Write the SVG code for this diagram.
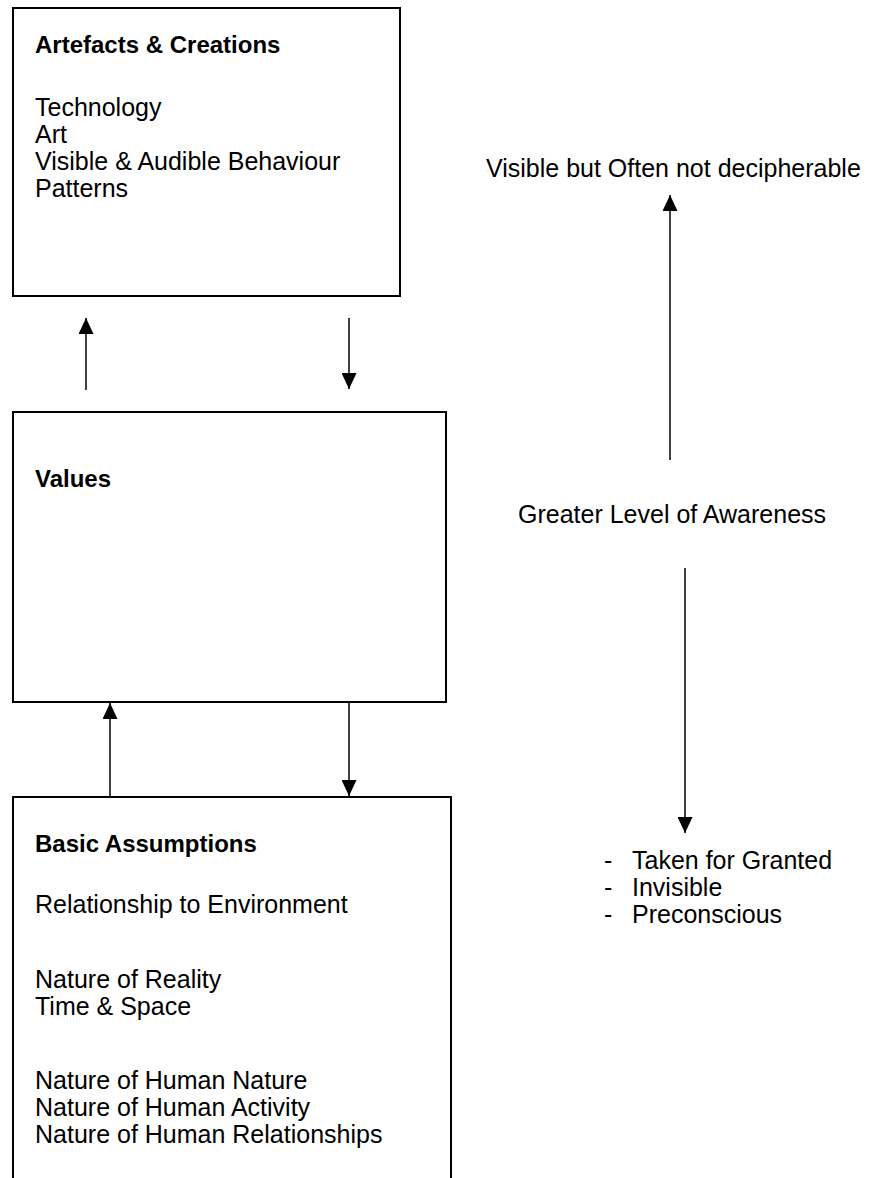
<svg xmlns="http://www.w3.org/2000/svg" width="869" height="1178" viewBox="0 0 869 1178">
  <style>
    .box { fill: #ffffff; stroke: #000000; stroke-width: 2; }
    .lnk { stroke: #000000; stroke-width: 1.5; fill: none; marker-end: url(#head); }
    text { font-family: "Liberation Sans", Arial, sans-serif; font-size: 25px; fill: #000000; }
    .title { font-weight: bold; font-size: 24px; }
  </style>
  <defs>
    <marker id="head" viewBox="0 0 16 16" refX="16" refY="8" markerWidth="16" markerHeight="15" markerUnits="userSpaceOnUse" orient="auto" preserveAspectRatio="none">
      <path d="M0,0 L16,8 L0,16 Z" fill="#000000"/>
    </marker>
  </defs>
  <rect width="869" height="1178" fill="#ffffff"/>

  <g id="artefacts">
    <rect class="box" x="13" y="8" width="387" height="288"/>
    <text class="title" x="35" y="53">Artefacts &amp; Creations</text>
    <text x="35" y="116">Technology</text>
    <text x="35" y="143">Art</text>
    <text x="35" y="170">Visible &amp; Audible Behaviour</text>
    <text x="35" y="197">Patterns</text>
  </g>

  <g id="values">
    <rect class="box" x="13" y="412" width="433" height="290"/>
    <text class="title" x="35" y="487">Values</text>
  </g>

  <g id="assumptions">
    <path class="box" d="M13,1180 V797 H451 V1180"/>
    <text class="title" x="35" y="852">Basic Assumptions</text>
    <text x="35" y="913">Relationship to Environment</text>
    <text x="35" y="988">Nature of Reality</text>
    <text x="35" y="1015">Time &amp; Space</text>
    <text x="35" y="1089">Nature of Human Nature</text>
    <text x="35" y="1116">Nature of Human Activity</text>
    <text x="35" y="1143">Nature of Human Relationships</text>
  </g>

  <g id="awareness">
    <text x="486" y="177">Visible but Often not decipherable</text>
    <text x="518" y="523">Greater Level of Awareness</text>
    <text x="604" y="869">-</text>
    <text x="632" y="869">Taken for Granted</text>
    <text x="604" y="896">-</text>
    <text x="632" y="896">Invisible</text>
    <text x="604" y="923">-</text>
    <text x="632" y="923">Preconscious</text>
  </g>

  <g id="connectors">
    <line class="lnk" x1="86" y1="390" x2="86" y2="318"/>
    <line class="lnk" x1="349" y1="318" x2="349" y2="389"/>
    <line class="lnk" x1="110" y1="797" x2="110" y2="703"/>
    <line class="lnk" x1="349" y1="703" x2="349" y2="796"/>
    <line class="lnk" x1="670" y1="460" x2="670" y2="195"/>
    <line class="lnk" x1="685" y1="568" x2="685" y2="833"/>
  </g>
</svg>
